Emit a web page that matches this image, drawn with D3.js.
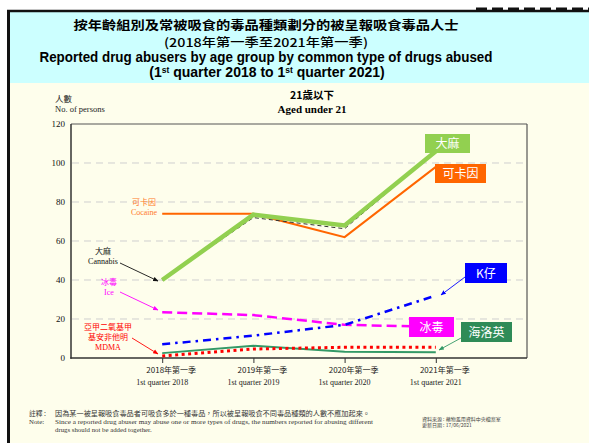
<!DOCTYPE html>
<html><head><meta charset="utf-8">
<script src="https://cdn.jsdelivr.net/npm/d3@7"></script>
<style>body{margin:0;background:#fff}svg{display:block}</style>
</head><body>
<svg id="c" width="589" height="443"></svg>
<script>
// ---------- data ----------
const categoriesZh = ["2018年第一季","2019年第一季","2020年第一季","2021年第一季"];
const categoriesEn = ["1st quarter 2018","1st quarter 2019","1st quarter 2020","1st quarter 2021"];
const yTicks = [0,20,40,60,80,100,120];
const cannabis = [40,73.5,68,106];
const cannabisShadow = [40,72,66.3,106];
const cocaine = [74,74,62,98];
const ice = [23.5,22,17,16];
const ketamine = [7,11.5,17,32];
const heroin = [2.5,6.3,3.2,3];
const mdma = [1,4.6,5.5,5.5];

const svg = d3.select("#c");
const serif = "'Liberation Serif','DejaVu Serif',serif";
const cjk = "'Noto Sans CJK TC','Noto Sans CJK SC',sans-serif";
const sans = "'Liberation Sans',Arial,sans-serif";

// ---------- frame & backgrounds ----------
svg.append("rect").attr("x",0).attr("y",0).attr("width",589).attr("height",443).attr("fill","#fff");
svg.append("rect").attr("x",10).attr("y",12).attr("width",579).attr("height",71).attr("fill","#ccffff");
svg.append("rect").attr("x",10).attr("y",83).attr("width",579).attr("height",360).attr("fill","#fefeec");
svg.append("line").attr("x1",7).attr("x2",589).attr("y1",11).attr("y2",11).attr("stroke","#111").attr("stroke-width",2.5);
svg.append("line").attr("x1",8.5).attr("x2",8.5).attr("y1",10).attr("y2",443).attr("stroke","#111").attr("stroke-width",3);
svg.append("line").attr("x1",476).attr("x2",589).attr("y1",9).attr("y2",9).attr("stroke","#111").attr("stroke-width",3).attr("stroke-dasharray","11,5");

// ---------- titles ----------
const title = [
  {t:"按年齡組別及常被吸食的毒品種類劃分的被呈報吸食毒品人士", y:29.5, f:cjk, s:12.5, w:600, len:385},
  {t:"(2018年第一季至2021年第一季)", y:47, f:cjk, s:12, w:500, len:204},
  {t:"Reported drug abusers by age group by common type of drugs abused", y:61.5, f:sans, s:14, w:700, len:453}
];
title.forEach(d=>{
  svg.append("text").attr("x",266).attr("y",d.y).attr("text-anchor","middle")
    .attr("font-family",d.f).attr("font-size",d.s).attr("font-weight",d.w).attr("fill","#000")
    .attr("textLength",d.len).attr("lengthAdjust","spacingAndGlyphs").text(d.t);
});
const t4 = svg.append("text").attr("x",267).attr("y",77).attr("text-anchor","middle")
  .attr("font-family",sans).attr("font-size",14).attr("font-weight",700).attr("fill","#000");
t4.append("tspan").text("(1");
t4.append("tspan").attr("font-size",8.5).attr("dy",-4).text("st");
t4.append("tspan").attr("dy",4).text(" quarter 2018 to 1");
t4.append("tspan").attr("font-size",8.5).attr("dy",-4).text("st");
t4.append("tspan").attr("dy",4).text(" quarter 2021)");

// ---------- scales ----------
const x = d3.scalePoint().domain(d3.range(categoriesZh.length)).range([71,527]).padding(1);
const y = d3.scaleLinear().domain([0,120]).range([358,124]);

// sub title
svg.append("text").attr("x",312).attr("y",99).attr("text-anchor","middle").attr("font-family",cjk)
  .attr("font-size",10.5).attr("font-weight",700).text("21歲以下");
svg.append("text").attr("x",312).attr("y",113).attr("text-anchor","middle").attr("font-family",serif)
  .attr("font-size",11).attr("font-weight",700).text("Aged under 21");

// y axis title
svg.append("text").attr("x",55).attr("y",102).attr("font-family",cjk).attr("font-size",8.5).attr("fill","#222").text("人數");
svg.append("text").attr("x",55).attr("y",112).attr("font-family",serif).attr("font-size",8.5).attr("fill","#222").text("No. of persons");

// grid
svg.append("g").selectAll("line").data(yTicks.filter(v=>v>0&&v<120)).join("line")
  .attr("x1",72).attr("x2",526).attr("y1",d=>y(d)).attr("y2",d=>y(d))
  .attr("stroke","#cfcfcf").attr("stroke-width",1).attr("stroke-dasharray","7,5");

// y axis via d3
const yAxis = svg.append("g").attr("transform","translate(71,0)")
  .call(d3.axisLeft(y).tickValues(yTicks).tickSize(0).tickPadding(6));
yAxis.select(".domain").remove();
yAxis.selectAll("text").attr("font-family",serif).attr("font-size",9).attr("fill","#111");

// x axis via d3
const xAxis = svg.append("g").attr("transform","translate(0,358)")
  .call(d3.axisBottom(x).tickSize(5).tickFormat(""));
xAxis.select(".domain").remove();
xAxis.selectAll("line").attr("stroke","#333");
svg.append("g").selectAll("text").data(categoriesZh).join("text")
  .attr("x",(d,i)=>x(i)+9).attr("y",373).attr("text-anchor","middle")
  .attr("font-family",cjk).attr("font-size",8).attr("fill","#222").text(d=>d);
svg.append("g").selectAll("text").data(categoriesEn).join("text")
  .attr("x",(d,i)=>x(i)).attr("y",385).attr("text-anchor","middle")
  .attr("font-family",serif).attr("font-size",8).attr("fill","#222").text(d=>d);

// plot frame
svg.append("line").attr("x1",71).attr("x2",527).attr("y1",124).attr("y2",124).attr("stroke","#555").attr("stroke-width",1.2);
svg.append("line").attr("x1",527).attr("x2",527).attr("y1",124).attr("y2",358).attr("stroke","#555").attr("stroke-width",1.2);
svg.append("line").attr("x1",71).attr("x2",71).attr("y1",124).attr("y2",358.7).attr("stroke","#333").attr("stroke-width",1.5);
svg.append("line").attr("x1",70.3).attr("x2",527).attr("y1",358).attr("y2",358).attr("stroke","#333").attr("stroke-width",1.5);

// ---------- series ----------
const line = d3.line().x((d,i)=>x(i)).y(d=>y(d));
const series = [
  {v:cocaine, c:"#ff6600", w:2, dash:null},
  {v:cannabisShadow, c:"#333", w:1, dash:"4,3"},
  {v:cannabis, c:"#92d050", w:4.5, dash:null},
  {v:ice, c:"#ff00ff", w:2.5, dash:"10,5"},
  {v:ketamine, c:"#0000ff", w:2.5, dash:"8,5,2.5,5"},
  {v:heroin, c:"#339966", w:2, dash:null},
  {v:mdma, c:"#ff0000", w:3, dash:"3,3.5"}
];
svg.append("g").selectAll("path").data(series).join("path")
  .attr("d",d=>line(d.v)).attr("fill","none").attr("stroke",d=>d.c).attr("stroke-width",d=>d.w)
  .attr("stroke-dasharray",d=>d.dash).attr("stroke-linejoin","miter");

// ---------- arrows ----------
const defs = svg.append("defs");
function marker(id,col){
  defs.append("marker").attr("id",id).attr("viewBox","0 0 10 10").attr("refX",9).attr("refY",5)
    .attr("markerWidth",6).attr("markerHeight",6).attr("orient","auto-start-reverse")
    .append("path").attr("d","M0,1 L10,5 L0,9 z").attr("fill",col);
}
function arrow(x1,y1,x2,y2,col,id){
  marker(id,col);
  svg.append("line").attr("x1",x1).attr("y1",y1).attr("x2",x2).attr("y2",y2)
    .attr("stroke",col).attr("stroke-width",0.9).attr("marker-end",`url(#${id})`);
}

// left annotations
function note(lines,cx,y0,col){
  lines.forEach((l,i)=>{
    svg.append("text").attr("x",cx).attr("y",y0+i*10).attr("text-anchor","middle")
      .attr("font-family",l.f).attr("font-size",8).attr("fill",col).text(l.t);
  });
}
note([{t:"可卡因",f:cjk},{t:"Cocaine",f:serif}],144,205,"#ff7a2a");
note([{t:"大麻",f:cjk},{t:"Cannabis",f:serif}],103,254,"#111");
arrow(120,263,158,281,"#111","a1");
note([{t:"冰毒",f:cjk},{t:"Ice",f:serif}],109,285,"#ff00ff");
arrow(120,292,158,310,"#ff00ff","a2");
note([{t:"亞甲二氧基甲",f:cjk},{t:"基安非他明",f:cjk},{t:"MDMA",f:serif}],108,330,"#ff0000");
arrow(132,338,158,354,"#ff0000","a3");

// right label boxes
function box(txt,cx,cy,w,h,col){
  svg.append("rect").attr("x",cx-w/2).attr("y",cy-h/2).attr("width",w).attr("height",h).attr("fill",col);
  svg.append("text").attr("x",cx).attr("y",cy+4.5).attr("text-anchor","middle").attr("font-family",cjk)
    .attr("font-size",12).attr("fill","#fff").text(txt);
}
box("大麻",447.5,143.5,45,19,"#92d050");
box("可卡因",460.5,173.5,51,19,"#ff6600");
arrow(465,277,441,295,"#0000ff","a4");
box("K仔",486,273,42,20,"#0000ff");
box("冰毒",431.5,327,45,20,"#ff00ff");
arrow(461,338,439,350,"#339966","a5");
box("海洛英",486.5,332,51,20,"#2e8b57");

// ---------- footnotes ----------
const fn = [
  {t:"註釋 :", x:29, y:416, f:cjk, len:null},
  {t:"因為某一被呈報吸食毒品者可吸食多於一種毒品，所以被呈報吸食不同毒品種類的人數不應加起來。", x:55, y:416, f:cjk, len:315},
  {t:"Note:", x:29, y:424, f:serif, len:null},
  {t:"Since a reported drug abuser may abuse one or more types of drugs, the numbers reported for abusing different", x:55, y:424, f:serif, len:318},
  {t:"drugs should not be added together.", x:55, y:431.5, f:serif, len:null}
];
fn.forEach(d=>{
  const t = svg.append("text").attr("x",d.x).attr("y",d.y).attr("font-family",d.f).attr("font-size",6.8).attr("fill","#333").text(d.t);
  if(d.len) t.attr("textLength",d.len).attr("lengthAdjust","spacingAndGlyphs");
});
svg.append("text").attr("x",422).attr("y",420.5).attr("font-family",cjk).attr("font-size",5).attr("fill","#444").text("資料來源 : 藥物濫用資料中央檔案室");
svg.append("text").attr("x",422).attr("y",427).attr("font-family",cjk).attr("font-size",5).attr("fill","#444").text("更新日期 : 17/06/2021");
</script>
</body></html>
